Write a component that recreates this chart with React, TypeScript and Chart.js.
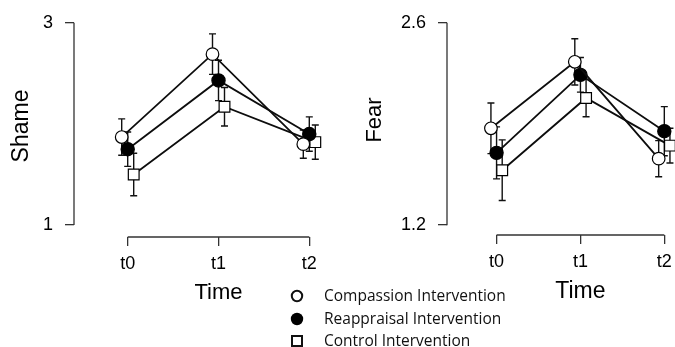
import React, { useEffect, useRef } from "react";
import { Chart, registerables } from "chart.js";
Chart.register(...registerables);

const timeLabels = ["t0", "t1", "t2"];
const groupNames = ["Compassion Intervention", "Reappraisal Intervention", "Control Intervention"];

const shameCompassion = [1.87, 2.69, 1.8];
const shameCompassionErr = [0.18, 0.2, 0.14];
const shameReappraisal = [1.75, 2.43, 1.9];
const shameReappraisalErr = [0.17, 0.2, 0.17];
const shameControl = [1.5, 2.17, 1.82];
const shameControlErr = [0.21, 0.19, 0.17];
const shameTicks = [1, 3];

const fearCompassion = [1.87, 2.33, 1.66];
const fearCompassionErr = [0.175, 0.16, 0.125];
const fearReappraisal = [1.7, 2.24, 1.85];
const fearReappraisalErr = [0.18, 0.12, 0.17];
const fearControl = [1.58, 2.08, 1.75];
const fearControlErr = [0.21, 0.13, 0.12];
const fearTicks = [1.2, 2.6];

const AXIS_FONT = "'Liberation Sans', Arial, sans-serif";
const LEGEND_FONT = "'Open Sans', 'Liberation Sans', sans-serif";
const H = 347;

const markerStyles = [
  { pointStyle: "circle", radius: 6.3, fill: "#ffffff" },
  { pointStyle: "circle", radius: 6.6, fill: "#000000" },
  { pointStyle: "rect", radius: 7.6, fill: "#ffffff" },
];

type Layout = {
  canvasWidth: number;
  axisX: number;
  yTopPix: number;
  yBotPix: number;
  xAxisPix: number;
  t0Pix: number;
  tStep: number;
  rightPix: number;
  dodgePx: number;
  yTitleX: number;
  yTitleY: number;
  yTitleSize: number;
  xTitleY: number;
  xTitleSize: number;
};

type Panel = {
  yTitle: string;
  ticks: number[];
  series: { values: number[]; errs: number[] }[];
  layout: Layout;
  legend: boolean;
};

const panels: Panel[] = [
  {
    yTitle: "Shame",
    ticks: shameTicks,
    series: [
      { values: shameCompassion, errs: shameCompassionErr },
      { values: shameReappraisal, errs: shameReappraisalErr },
      { values: shameControl, errs: shameControlErr },
    ],
    layout: {
      canvasWidth: 675,
      axisX: 74,
      yTopPix: 22,
      yBotPix: 225,
      xAxisPix: 237,
      t0Pix: 127.7,
      tStep: 90.8,
      rightPix: 345,
      dodgePx: 6,
      yTitleX: 22,
      yTitleY: 126,
      yTitleSize: 23,
      xTitleY: 293,
      xTitleSize: 22,
    },
    legend: true,
  },
  {
    yTitle: "Fear",
    ticks: fearTicks,
    series: [
      { values: fearCompassion, errs: fearCompassionErr },
      { values: fearReappraisal, errs: fearReappraisalErr },
      { values: fearControl, errs: fearControlErr },
    ],
    layout: {
      canvasWidth: 760,
      axisX: 447,
      yTopPix: 20,
      yBotPix: 225,
      xAxisPix: 235,
      t0Pix: 498,
      tStep: 86.3,
      rightPix: 760,
      dodgePx: 5.8,
      yTitleX: 375,
      yTitleY: 120,
      yTitleSize: 22,
      xTitleY: 292,
      xTitleSize: 23,
    },
    legend: false,
  },
];

function drawLegendSymbol(ctx: CanvasRenderingContext2D, i: number, x: number, y: number) {
  ctx.save();
  ctx.lineWidth = 2;
  ctx.strokeStyle = "#111";
  if (i === 0) {
    ctx.beginPath();
    ctx.arc(x, y, 5.2, 0, Math.PI * 2);
    ctx.fillStyle = "#fff";
    ctx.fill();
    ctx.stroke();
  } else if (i === 1) {
    ctx.beginPath();
    ctx.arc(x, y, 6.2, 0, Math.PI * 2);
    ctx.fillStyle = "#000";
    ctx.fill();
  } else {
    ctx.fillStyle = "#fff";
    ctx.fillRect(x - 5, y - 5, 10, 10);
    ctx.strokeRect(x - 5, y - 5, 10, 10);
  }
  ctx.restore();
}

function PanelChart({ panel }: { panel: Panel }) {
  const ref = useRef<HTMLCanvasElement | null>(null);
  useEffect(() => {
    const L = panel.layout;
    const lo = panel.ticks[0];
    const hi = panel.ticks[panel.ticks.length - 1];
    const pxPerUnit = (L.yBotPix - L.yTopPix) / (hi - lo);
    const yMin = lo - (L.xAxisPix - L.yBotPix) / pxPerUnit;
    const xMin = -(L.t0Pix - L.axisX) / L.tStep;
    const xMax = (L.rightPix - L.t0Pix) / L.tStep;
    const offsets = panel.series.map((_, i) => ((i - 1) * L.dodgePx) / L.tStep);

    const datasets = panel.series.map((s, i) => ({
      label: groupNames[i],
      data: s.values.map((v, j) => ({ x: j + offsets[i], y: v })),
      borderColor: "#0d0d0d",
      borderWidth: 1.8,
      tension: 0,
      pointStyle: markerStyles[i].pointStyle,
      pointRadius: markerStyles[i].radius,
      pointBackgroundColor: markerStyles[i].fill,
      pointBorderColor: "#000",
      pointBorderWidth: 1.2,
      pointHoverRadius: markerStyles[i].radius,
      clip: false as any,
    }));

    const deco = {
      id: "deco",
      beforeDatasetsDraw(chart: any) {
        const ctx = chart.ctx as CanvasRenderingContext2D;
        const xs = chart.scales.x;
        const ys = chart.scales.y;
        ctx.save();
        ctx.strokeStyle = "#111";
        ctx.lineWidth = 1.4;
        panel.series.forEach((s, i) => {
          s.values.forEach((v, j) => {
            const x = xs.getPixelForValue(j + offsets[i]);
            const t = ys.getPixelForValue(v + s.errs[j]);
            const b = ys.getPixelForValue(v - s.errs[j]);
            ctx.beginPath();
            ctx.moveTo(x, t);
            ctx.lineTo(x, b);
            ctx.moveTo(x - 3.5, t);
            ctx.lineTo(x + 3.5, t);
            ctx.moveTo(x - 3.5, b);
            ctx.lineTo(x + 3.5, b);
            ctx.stroke();
          });
        });
        ctx.restore();
      },
      afterDraw(chart: any) {
        const ctx = chart.ctx as CanvasRenderingContext2D;
        const xs = chart.scales.x;
        const ys = chart.scales.y;
        const area = chart.chartArea;
        ctx.save();
        ctx.strokeStyle = "#333";
        ctx.lineWidth = 1.3;
        ctx.beginPath();
        ctx.moveTo(area.left, ys.getPixelForValue(hi));
        ctx.lineTo(area.left, ys.getPixelForValue(lo));
        ctx.moveTo(xs.getPixelForValue(0), area.bottom);
        ctx.lineTo(xs.getPixelForValue(timeLabels.length - 1), area.bottom);
        ctx.stroke();

        ctx.fillStyle = "#000";
        ctx.textAlign = "center";
        ctx.textBaseline = "middle";
        ctx.font = `${L.xTitleSize}px ${AXIS_FONT}`;
        ctx.fillText("Time", xs.getPixelForValue(1), L.xTitleY);

        ctx.save();
        ctx.translate(L.yTitleX, L.yTitleY);
        ctx.rotate(-Math.PI / 2);
        ctx.font = `${L.yTitleSize}px ${AXIS_FONT}`;
        ctx.fillText(panel.yTitle, 0, 0);
        ctx.restore();

        if (panel.legend) {
          const rows = [296, 319, 341];
          ctx.font = `15.5px ${LEGEND_FONT}`;
          ctx.textAlign = "left";
          ctx.fillStyle = "#111";
          groupNames.forEach((name, i) => {
            drawLegendSymbol(ctx, i, 297, rows[i]);
            ctx.fillText(name, 324, rows[i] + 1);
          });
        }
        ctx.restore();
      },
    };

    const chart = new Chart(ref.current as HTMLCanvasElement, {
      type: "line",
      data: { datasets: datasets as any },
      options: {
        animation: false,
        responsive: false,
        devicePixelRatio: 1,
        layout: {
          padding: { top: L.yTopPix, right: L.canvasWidth - L.rightPix, left: 0, bottom: 0 },
        },
        plugins: { legend: { display: false }, tooltip: { enabled: false }, title: { display: false } },
        scales: {
          x: {
            type: "linear",
            min: xMin,
            max: xMax,
            afterBuildTicks: (s: any) => {
              s.ticks = timeLabels.map((_, j) => ({ value: j }));
            },
            afterFit: (s: any) => {
              s.height = H - L.xAxisPix;
            },
            ticks: {
              callback: (v: any) => timeLabels[Math.round(Number(v))],
              font: { size: 18, family: AXIS_FONT },
              color: "#000",
              padding: 7,
              maxRotation: 0,
              autoSkip: false,
            },
            grid: { display: true, drawOnChartArea: false, drawTicks: true, tickLength: 9, color: "#333", lineWidth: 1.3 },
            border: { display: false },
          },
          y: {
            type: "linear",
            min: yMin,
            max: hi,
            afterBuildTicks: (s: any) => {
              s.ticks = panel.ticks.map((v) => ({ value: v }));
            },
            afterFit: (s: any) => {
              s.width = L.axisX;
            },
            ticks: {
              callback: (v: any) => String(v),
              font: { size: 18, family: AXIS_FONT },
              color: "#000",
              padding: 12,
            },
            grid: { display: true, drawOnChartArea: false, drawTicks: true, tickLength: 9, color: "#333", lineWidth: 1.3 },
            border: { display: false },
          },
        },
      },
      plugins: [deco],
    });
    return () => chart.destroy();
  }, [panel]);
  return (
    <canvas
      ref={ref}
      width={panel.layout.canvasWidth}
      height={H}
      style={{ position: "absolute", left: 0, top: 0, width: panel.layout.canvasWidth, height: H }}
    />
  );
}

export default function App() {
  return (
    <div
      style={{
        position: "fixed",
        left: 0,
        top: 0,
        width: 675,
        height: H,
        overflow: "hidden",
        background: "#fff",
      }}
    >
      {panels.map((p, i) => (
        <PanelChart key={i} panel={p} />
      ))}
    </div>
  );
}
